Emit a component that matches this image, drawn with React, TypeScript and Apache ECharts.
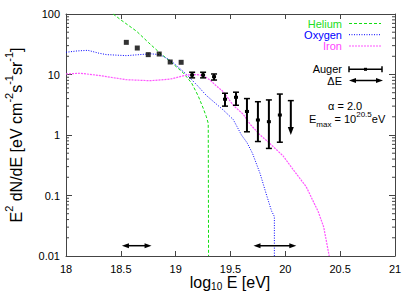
import React, { useEffect, useRef } from 'react';
import * as echarts from 'echarts';

// ---- data ----
const heliumE = [18.43, 18.5, 18.644, 18.75, 18.857, 18.948, 19.07, 19.146, 19.206, 19.25, 19.28, 19.297, 19.3];
const heliumV = [100, 80, 51.8, 34, 22.6, 16.6, 10.6, 7.2, 4.4, 2.8, 2.0, 1.56, 0.01];

const oxygenE = [18.0, 18.1, 18.2, 18.3, 18.37, 18.55, 18.7, 18.77, 18.857, 18.93, 18.98, 19.1, 19.2, 19.28, 19.434, 19.525, 19.6, 19.65, 19.7, 19.77, 19.83, 19.875, 19.9, 19.9];
const oxygenV = [23.3, 24.5, 25.1, 22.5, 21.3, 20.5, 21.5, 22, 21.3, 18, 15.5, 10, 6.5, 4.5, 2.59, 1.8, 1.0, 0.75, 0.5, 0.23, 0.1, 0.055, 0.045, 0.01];

const ironE = [18.0, 18.13, 18.31, 18.55, 18.77, 18.95, 19.1, 19.19, 19.25, 19.31, 19.37, 19.434, 19.525, 19.616, 19.68, 19.77, 19.85, 19.98, 20.07, 20.19, 20.3, 20.35, 20.4];
const ironV = [10.2, 10.5, 9.6, 8.2, 7.9, 8.4, 9.8, 10, 9.6, 8.2, 6.5, 5.2, 3.1, 2.2, 1.5, 1.0, 0.75, 0.45, 0.27, 0.14, 0.054, 0.03, 0.01];

const augerE = [18.55, 18.65, 18.75, 18.85, 18.95, 19.05, 19.15, 19.25, 19.35, 19.45, 19.55, 19.65, 19.75, 19.85, 19.95];
const augerV = [34, 27.4, 21.3, 21.8, 16.1, 15.9, 9.8, 9.8, 9.2, 3.9, 4.2, 2.45, 1.77, 1.66, 2.14];
const augerLo = [null, null, null, null, null, null, 8.8, 8.8, 8.1, 3.0, 3.1, 1.13, 0.78, 0.6, 0.76];
const augerHi = [null, null, null, null, null, null, 10.9, 10.9, 10.2, 4.9, 5.1, 4.0, 3.55, 3.8, 4.75];

const limitE = [20.05];
const limitTop = [3.7];
const limitTip = [1.0];

const deltaEFrom = [18.51, 19.71];
const deltaETo = [18.78, 20.1];
const deltaEY = [0.0148, 0.0148];

const xTicks = [18, 18.5, 19, 19.5, 20, 20.5, 21];
const yTicks = [0.01, 0.1, 1, 10, 100];

const FONT = 'Liberation Sans, Arial, sans-serif';

function minorValues(): number[] {
  const out: number[] = [];
  for (let d = -2; d < 2; d++) {
    for (let k = 2; k <= 9; k++) out.push(k * Math.pow(10, d));
  }
  return out;
}

export default function App() {
  const ref = useRef<HTMLDivElement>(null);

  useEffect(() => {
    document.body.style.margin = '0';
    if (!ref.current) return;
    const chart = echarts.init(ref.current, undefined, { renderer: 'svg' });
    const axisColor = '#444';
    const green = '#11dd11';
    const blue = '#0000ff';
    const pink = '#ff55ff';

    const plain = augerE.map((e, i) => (augerLo[i] == null ? [e, augerV[i]] : null)).filter(Boolean);
    const bars = augerE
      .map((e, i) => (augerLo[i] != null ? [e, augerLo[i], augerHi[i], augerV[i]] : null))
      .filter(Boolean);

    const option: any = {
      animation: false,
      textStyle: { fontFamily: FONT },
      grid: { left: 66, top: 14, width: 329, height: 242, containLabel: false },
      xAxis: [
        {
          type: 'value', min: 18, max: 21, interval: 0.5, position: 'bottom',
          axisLine: { show: true, lineStyle: { color: axisColor, width: 1 } },
          axisTick: { show: true, inside: true, length: 5, lineStyle: { color: axisColor } },
          axisLabel: {
            color: '#000', fontSize: 11, fontFamily: FONT, margin: 7,
            formatter: (v: number) => (xTicks.includes(v) ? String(v) : ''),
          },
          splitLine: { show: false },
        },
        {
          type: 'value', min: 18, max: 21, interval: 0.5, position: 'top',
          axisLine: { show: true, lineStyle: { color: axisColor, width: 1 } },
          axisTick: { show: true, inside: true, length: 5, lineStyle: { color: axisColor } },
          axisLabel: { show: false },
          splitLine: { show: false },
        },
      ],
      yAxis: [
        {
          type: 'log', logBase: 10, min: 0.01, max: 100, position: 'left',
          axisLine: { show: true, lineStyle: { color: axisColor, width: 1 } },
          axisTick: { show: true, inside: true, length: 6, lineStyle: { color: axisColor } },
          axisLabel: {
            color: '#000', fontSize: 11, fontFamily: FONT, margin: 6,
            formatter: (v: number) => {
              const m = yTicks.find((t) => Math.abs(Math.log10(t) - Math.log10(v)) < 1e-6);
              return m != null ? String(m) : '';
            },
          },
          splitLine: { show: false },
        },
        {
          type: 'log', logBase: 10, min: 0.01, max: 100, position: 'right',
          axisLine: { show: true, lineStyle: { color: axisColor, width: 1 } },
          axisTick: { show: true, inside: true, length: 6, lineStyle: { color: axisColor } },
          axisLabel: { show: false },
          splitLine: { show: false },
        },
      ],
      series: [
        {
          type: 'custom', xAxisIndex: 0, yAxisIndex: 0, clip: false, silent: true,
          data: minorValues().map((v) => [18, v]),
          encode: { x: 0, y: 1 },
          renderItem: (_p: any, api: any) => {
            const v = api.value(1);
            const l = api.coord([18, v]);
            const r = api.coord([21, v]);
            return {
              type: 'group',
              children: [
                { type: 'line', shape: { x1: l[0], y1: l[1], x2: l[0] + 3, y2: l[1] }, style: { stroke: axisColor, lineWidth: 1 } },
                { type: 'line', shape: { x1: r[0] - 3, y1: r[1], x2: r[0], y2: r[1] }, style: { stroke: axisColor, lineWidth: 1 } },
              ],
            };
          },
        },
        {
          name: 'Helium', type: 'line', showSymbol: false, symbol: 'none',
          data: heliumE.map((e, i) => [e, heliumV[i]]),
          lineStyle: { color: green, width: 1, type: [3, 2] },
        },
        {
          name: 'Oxygen', type: 'line', showSymbol: false, symbol: 'none',
          data: oxygenE.map((e, i) => [e, oxygenV[i]]),
          lineStyle: { color: blue, width: 1, type: [1, 1.5] },
        },
        {
          name: 'Iron', type: 'line', showSymbol: false, symbol: 'none',
          data: ironE.map((e, i) => [e, ironV[i]]),
          lineStyle: { color: pink, width: 1.2, type: [2, 1] },
        },
        {
          name: 'Auger', type: 'scatter', symbol: 'rect', symbolSize: 5,
          itemStyle: { color: '#000' }, z: 5,
          data: plain,
        },
        {
          type: 'custom', z: 5, data: bars, encode: { x: 0, y: [1, 2, 3] },
          renderItem: (_p: any, api: any) => {
            const x = api.value(0);
            const lo = api.coord([x, api.value(1)]);
            const hi = api.coord([x, api.value(2)]);
            const pv = api.coord([x, api.value(3)]);
            const c = 3;
            return {
              type: 'group',
              children: [
                { type: 'line', shape: { x1: lo[0], y1: lo[1], x2: hi[0], y2: hi[1] }, style: { stroke: '#000', lineWidth: 2 } },
                { type: 'line', shape: { x1: lo[0] - c, y1: lo[1], x2: lo[0] + c, y2: lo[1] }, style: { stroke: '#000', lineWidth: 1.5 } },
                { type: 'line', shape: { x1: hi[0] - c, y1: hi[1], x2: hi[0] + c, y2: hi[1] }, style: { stroke: '#000', lineWidth: 1.5 } },
                { type: 'rect', shape: { x: pv[0] - 2, y: pv[1] - 1.5, width: 4, height: 3 }, style: { fill: '#000' } },
              ],
            };
          },
        },
        {
          type: 'custom', z: 5, data: limitE.map((e, i) => [e, limitTop[i], limitTip[i]]), encode: { x: 0, y: [1, 2] },
          renderItem: (_p: any, api: any) => {
            const x = api.value(0);
            const top = api.coord([x, api.value(1)]);
            const tip = api.coord([x, api.value(2)]);
            return {
              type: 'group',
              children: [
                { type: 'line', shape: { x1: top[0], y1: top[1], x2: tip[0], y2: tip[1] - 6 }, style: { stroke: '#000', lineWidth: 2 } },
                { type: 'line', shape: { x1: top[0] - 3, y1: top[1], x2: top[0] + 3, y2: top[1] }, style: { stroke: '#000', lineWidth: 1.5 } },
                { type: 'polygon', shape: { points: [[tip[0] - 3, tip[1] - 8], [tip[0] + 3, tip[1] - 8], [tip[0], tip[1]]] }, style: { fill: '#000' } },
              ],
            };
          },
        },
        {
          type: 'custom', z: 5, data: deltaEFrom.map((e, i) => [e, deltaETo[i], deltaEY[i]]), encode: { x: [0, 1], y: 2 },
          renderItem: (_p: any, api: any) => {
            const y = api.value(2);
            const a = api.coord([api.value(0), y]);
            const b = api.coord([api.value(1), y]);
            return {
              type: 'group',
              children: [
                { type: 'line', shape: { x1: a[0] + 4, y1: a[1], x2: b[0] - 4, y2: b[1] }, style: { stroke: '#000', lineWidth: 1.5 } },
                { type: 'polygon', shape: { points: [[a[0], a[1]], [a[0] + 7, a[1] - 2.5], [a[0] + 7, a[1] + 2.5]] }, style: { fill: '#000' } },
                { type: 'polygon', shape: { points: [[b[0], b[1]], [b[0] - 7, b[1] - 2.5], [b[0] - 7, b[1] + 2.5]] }, style: { fill: '#000' } },
              ],
            };
          },
        },
      ],
      graphic: [
        { type: 'text', x: 342, y: 23.5, style: { text: 'Helium', fill: '#22dd22', font: `11px ${FONT}`, align: 'right', verticalAlign: 'middle' } },
        { type: 'line', shape: { x1: 349, y1: 23.5, x2: 381, y2: 23.5 }, style: { stroke: green, fill: 'none', lineWidth: 1, lineDash: [3, 2] } },
        { type: 'text', x: 342, y: 34.7, style: { text: 'Oxygen', fill: blue, font: `11px ${FONT}`, align: 'right', verticalAlign: 'middle' } },
        { type: 'line', shape: { x1: 349, y1: 34.7, x2: 381, y2: 34.7 }, style: { stroke: blue, fill: 'none', lineWidth: 1, lineDash: [1, 1.5] } },
        { type: 'text', x: 342, y: 46, style: { text: 'Iron', fill: '#ff44ff', font: `11px ${FONT}`, align: 'right', verticalAlign: 'middle' } },
        { type: 'line', shape: { x1: 349, y1: 46, x2: 381, y2: 46 }, style: { stroke: pink, fill: 'none', lineWidth: 1.2, lineDash: [2, 1] } },
        { type: 'text', x: 342, y: 69.3, style: { text: 'Auger', fill: '#000', font: `11px ${FONT}`, align: 'right', verticalAlign: 'middle' } },
        { type: 'line', shape: { x1: 349, y1: 69.3, x2: 382, y2: 69.3 }, style: { stroke: '#000', lineWidth: 1.5 } },
        { type: 'line', shape: { x1: 349, y1: 66.3, x2: 349, y2: 72.3 }, style: { stroke: '#000', lineWidth: 1.5 } },
        { type: 'line', shape: { x1: 382, y1: 66.3, x2: 382, y2: 72.3 }, style: { stroke: '#000', lineWidth: 1.5 } },
        { type: 'rect', shape: { x: 364, y: 67.8, width: 3, height: 3 }, style: { fill: '#000' } },
        { type: 'text', x: 342, y: 80.5, style: { text: 'ΔE', fill: '#000', font: `11px ${FONT}`, align: 'right', verticalAlign: 'middle' } },
        { type: 'line', shape: { x1: 353, y1: 80.5, x2: 379, y2: 80.5 }, style: { stroke: '#000', lineWidth: 1.5 } },
        { type: 'polygon', shape: { points: [[349, 80.5], [356, 78], [356, 83]] }, style: { fill: '#000' } },
        { type: 'polygon', shape: { points: [[383, 80.5], [376, 78], [376, 83]] }, style: { fill: '#000' } },
        { type: 'text', x: 328, y: 105.5, style: { text: 'α = 2.0', fill: '#000', font: `11px ${FONT}`, align: 'left', verticalAlign: 'middle' } },
        {
          type: 'text', x: 309, y: 119,
          style: {
            text: '{n|E}{sub|max}{n| = 10}{sup|20.5}{n|eV}',
            align: 'left', verticalAlign: 'middle',
            rich: {
              n: { fontSize: 11, fontFamily: FONT, fill: '#000', lineHeight: 18, verticalAlign: 'middle' },
              sub: { fontSize: 8, fontFamily: FONT, fill: '#000', lineHeight: 18, verticalAlign: 'bottom' },
              sup: { fontSize: 8, fontFamily: FONT, fill: '#000', lineHeight: 18, verticalAlign: 'top' },
            },
          },
        },
        {
          type: 'text', x: 16, y: 135, rotation: Math.PI / 2,
          style: {
            text: '{n|E}{sup|2}{n| dN/dE [eV cm}{sup|-2}{n|s}{sup|-1}{n|sr}{sup|-1}{n|]}',
            align: 'center', verticalAlign: 'middle',
            rich: {
              n: { fontSize: 16, fontFamily: FONT, fill: '#000', lineHeight: 26, verticalAlign: 'middle' },
              sup: { fontSize: 11, fontFamily: FONT, fill: '#000', lineHeight: 26, verticalAlign: 'top' },
            },
          },
        },
        {
          type: 'text', x: 230, y: 282,
          style: {
            text: '{n|log}{sub|10}{n| E [eV]}',
            align: 'center', verticalAlign: 'middle',
            rich: {
              n: { fontSize: 16, fontFamily: FONT, fill: '#000', lineHeight: 18, verticalAlign: 'middle' },
              sub: { fontSize: 10, fontFamily: FONT, fill: '#000', lineHeight: 18, verticalAlign: 'bottom' },
            },
          },
        },
      ],
    };
    chart.setOption(option);
    return () => chart.dispose();
  }, []);

  return <div ref={ref} style={{ width: 415, height: 291, background: '#fff' }} />;
}
